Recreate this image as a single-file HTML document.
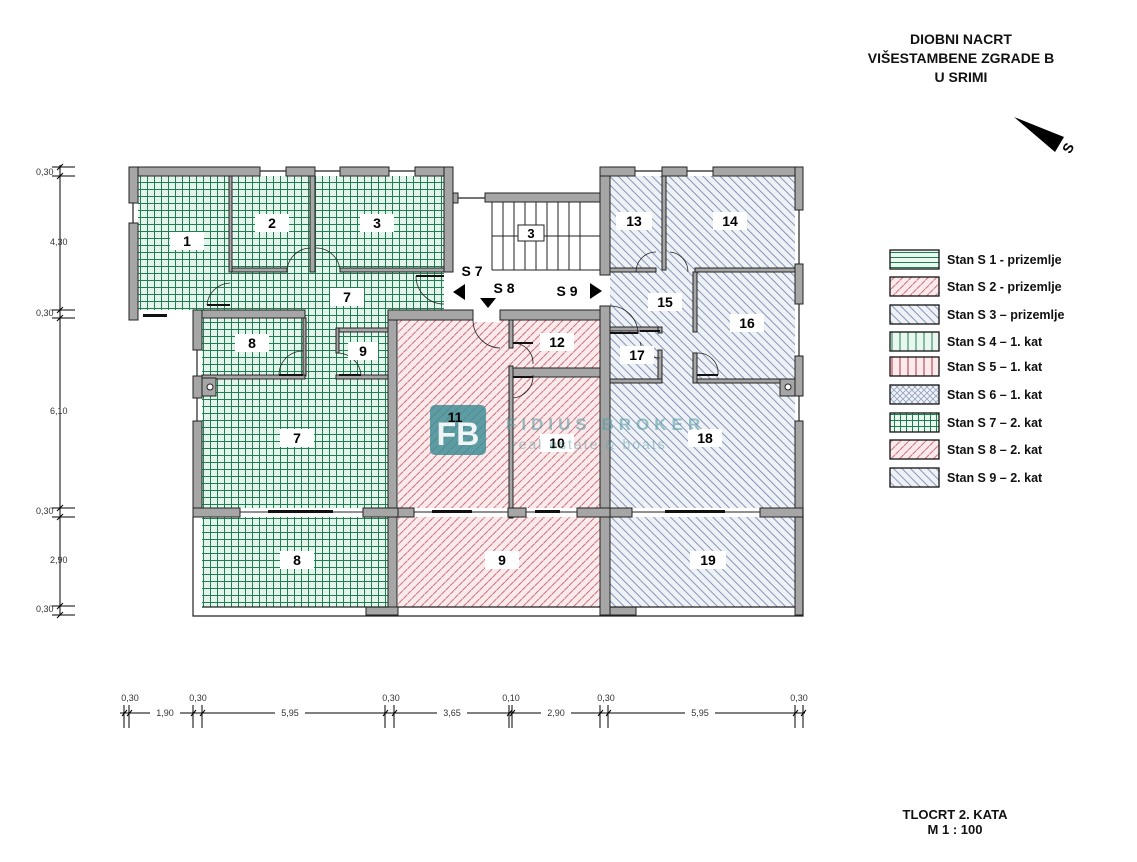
<!DOCTYPE html>
<html><head><meta charset="utf-8"><style>
html,body{margin:0;padding:0;background:#fff;width:1137px;height:862px;overflow:hidden}
svg{display:block}
text{font-family:"Liberation Sans",Arial,sans-serif}
</style></head><body>
<svg width="1137" height="862" viewBox="0 0 1137 862" xmlns="http://www.w3.org/2000/svg">
<defs>
<pattern id="g" width="7" height="7" patternUnits="userSpaceOnUse">
<rect width="7" height="7" fill="#e3f4ec"/>
<path d="M0 0.5H7M0.5 0V7" stroke="#1f7d50" stroke-width="1"/>
</pattern>
<pattern id="r" width="6" height="6" patternUnits="userSpaceOnUse" patternTransform="rotate(45)">
<rect width="6" height="6" fill="#fbeaec"/>
<path d="M0 0.5V6" stroke="#c8707a" stroke-width="1" transform="translate(0.5 0)"/>
</pattern>
<pattern id="b" width="6" height="6" patternUnits="userSpaceOnUse" patternTransform="rotate(-45)">
<rect width="6" height="6" fill="#eef1f6"/>
<path d="M0.5 0V6" stroke="#8696b4" stroke-width="1"/>
</pattern>
<pattern id="lh" width="8" height="5" patternUnits="userSpaceOnUse"><rect width="8" height="5" fill="#eaf6f0"/><path d="M0 2.5H8" stroke="#1f7d50"/></pattern>
<pattern id="lvg" width="8" height="8" patternUnits="userSpaceOnUse"><rect width="8" height="8" fill="#eaf6f0"/><path d="M4 0V8" stroke="#1f7d50"/></pattern>
<pattern id="lvr" width="8" height="8" patternUnits="userSpaceOnUse"><rect width="8" height="8" fill="#fbeaec"/><path d="M4 0V8" stroke="#b03040"/></pattern>
<pattern id="x" width="6" height="6" patternUnits="userSpaceOnUse"><rect width="6" height="6" fill="#eef1f6"/><path d="M0 0L6 6M6 0L0 6" stroke="#8696b4" stroke-width="0.7"/></pattern>
<pattern id="lg" width="6" height="6" patternUnits="userSpaceOnUse"><rect width="6" height="6" fill="#eaf6f0"/><path d="M0 0.5H6M0.5 0V6" stroke="#1f7d50"/></pattern>
</defs>

<rect x="138" y="176" width="306" height="134" fill="url(#g)"/>
<rect x="202" y="310" width="186" height="297" fill="url(#g)"/>
<rect x="398" y="320" width="202" height="287" fill="url(#r)"/>
<rect x="610" y="176" width="185" height="431" fill="url(#b)"/>
<rect x="444" y="272" width="166" height="46" fill="#fff"/>
<rect x="473" y="310" width="27" height="12" fill="#fff"/>
<rect x="193" y="508" width="610" height="9" fill="#fff"/>

<g fill="#a6a6a6" stroke="#222" stroke-width="1">
<rect x="129" y="167" width="131" height="9"/>
<rect x="286" y="167" width="29" height="9"/>
<rect x="340" y="167" width="49" height="9"/>
<rect x="415" y="167" width="38" height="9"/>
<rect x="129" y="167" width="9" height="36"/>
<rect x="129" y="223" width="9" height="97"/>
<rect x="444" y="167" width="9" height="105"/>
<rect x="229" y="176" width="3" height="96"/>
<rect x="310" y="176" width="5" height="96"/>
<rect x="232" y="268" width="55" height="4"/>
<rect x="340" y="268" width="104" height="4"/>
<rect x="453" y="193" width="5" height="10"/>
<rect x="485" y="193" width="115" height="9"/>
<rect x="193" y="310" width="112" height="8"/>
<rect x="193" y="310" width="9" height="40"/>
<rect x="193" y="376" width="9" height="22"/>
<rect x="193" y="421" width="9" height="87"/>
<rect x="303" y="318" width="3" height="58"/>
<rect x="202" y="375" width="103" height="4"/>
<rect x="336" y="328" width="52" height="4"/>
<rect x="336" y="328" width="3" height="25"/>
<rect x="336" y="375" width="52" height="4"/>
<rect x="202" y="378" width="14" height="18"/>
<rect x="388" y="310" width="9" height="305"/>
<rect x="388" y="310" width="85" height="10"/>
<rect x="500" y="310" width="100" height="10"/>
<rect x="509" y="320" width="4" height="28"/>
<rect x="509" y="366" width="4" height="152"/>
<rect x="513" y="368" width="87" height="9"/>
<rect x="600" y="167" width="10" height="108"/>
<rect x="600" y="306" width="10" height="309"/>
<rect x="600" y="167" width="35" height="9"/>
<rect x="662" y="167" width="25" height="9"/>
<rect x="713" y="167" width="90" height="9"/>
<rect x="662" y="176" width="4" height="94"/>
<rect x="610" y="268" width="46" height="4"/>
<rect x="695" y="268" width="100" height="4"/>
<rect x="795" y="167" width="8" height="43"/>
<rect x="795" y="264" width="8" height="40"/>
<rect x="795" y="356" width="8" height="40"/>
<rect x="795" y="421" width="8" height="87"/>
<rect x="693" y="272" width="4" height="60"/>
<rect x="693" y="353" width="4" height="30"/>
<rect x="697" y="379" width="98" height="4"/>
<rect x="780" y="379" width="15" height="17"/>
<rect x="610" y="327" width="52" height="4"/>
<rect x="658" y="327" width="4" height="6"/>
<rect x="658" y="350" width="4" height="33"/>
<rect x="610" y="379" width="52" height="4"/>
<rect x="193" y="508" width="47" height="9"/>
<rect x="363" y="508" width="35" height="9"/>
<rect x="398" y="508" width="16" height="9"/>
<rect x="508" y="508" width="18" height="9"/>
<rect x="577" y="508" width="33" height="9"/>
<rect x="610" y="508" width="22" height="9"/>
<rect x="760" y="508" width="43" height="9"/>
<rect x="795" y="517" width="8" height="98"/>
<rect x="366" y="607" width="32" height="8"/>
<rect x="610" y="607" width="26" height="8"/>
</g>
<circle cx="210" cy="387" r="3" fill="#fff" stroke="#222"/>
<circle cx="788" cy="387" r="3" fill="#fff" stroke="#222"/>
<g fill="none" stroke="#222" stroke-width="1.2">
<path d="M193 517V616H803V508"/>
<path d="M202 607H388M398 607H600M610 607H795"/>
<path d="M133 203V223M197 350V376M197 398V421M799 210V264M799 304V356M799 396V421"/>
<path d="M260 171H286M315 171H340M389 171H415M635 171H662M687 171H713M458 198H485"/>
<path d="M240 512H363M414 512H508M526 512H577M632 512H760" stroke-width="1"/>
</g>
<g fill="#111"><rect x="268" y="510" width="65" height="3"/><rect x="432" y="510" width="40" height="3"/><rect x="535" y="510" width="25" height="3"/><rect x="665" y="510" width="60" height="3"/><rect x="143" y="314" width="24" height="3"/></g>
<g stroke="#222" fill="none" stroke-width="1">
<path d="M492 202V270M600 270H492M492 236H600"/>
<path d="M503 202V270M514 202V270M525 202V270M536 202V270M547 202V270M558 202V270M569 202V270M580 202V270"/>
</g>
<rect x="518" y="225" width="26" height="16" fill="#fff" stroke="#222"/>
<text x="531" y="238" font-size="13" font-weight="bold" text-anchor="middle">3</text>
<g fill="none" stroke="#222" stroke-width="0.8">
<path d="M287 272A24 24 0 0 1 310 248M340 272A24 24 0 0 0 316 248"/>
<path d="M207 305A24 24 0 0 1 230 283M444 304A28 28 0 0 1 416 276"/>
<path d="M279 375A24 24 0 0 1 303 351M361 375A24 24 0 0 0 339 353"/>
<path d="M473 320A28 28 0 0 0 500 348M513 343A20 20 0 0 1 533 364M513 398A22 22 0 0 0 533 375"/>
<path d="M636 272A20 20 0 0 1 656 252M688 272A20 20 0 0 0 670 252M610 306A28 28 0 0 1 638 334M697 353A20 20 0 0 1 718 375M640 342A20 20 0 0 0 660 358"/>
</g>
<g stroke="#111" stroke-width="2"><path d="M207 305H230M416 276H444M279 375H303M339 375H361M513 343H533M513 377H533M610 333H638M697 375H718M640 331H660"/></g>

<g font-size="14" font-weight="bold" text-anchor="middle">
<g fill="#fff"><rect x="170" y="232" width="34" height="18"/><rect x="255" y="214" width="34" height="18"/><rect x="360" y="214" width="34" height="18"/><rect x="330" y="288" width="34" height="18"/><rect x="235" y="334" width="34" height="18"/><rect x="348" y="342" width="30" height="18"/><rect x="280" y="429" width="34" height="18"/><rect x="280" y="551" width="34" height="18"/><rect x="485" y="551" width="34" height="18"/><rect x="540" y="333" width="34" height="18"/><rect x="540" y="434" width="34" height="18"/><rect x="688" y="429" width="34" height="18"/><rect x="690" y="551" width="36" height="18"/><rect x="616" y="212" width="36" height="18"/><rect x="713" y="212" width="34" height="18"/><rect x="648" y="293" width="34" height="18"/><rect x="730" y="314" width="34" height="18"/><rect x="620" y="346" width="34" height="18"/></g>
<text x="187" y="246">1</text><text x="272" y="228">2</text><text x="377" y="228">3</text><text x="347" y="302">7</text><text x="252" y="348">8</text><text x="363" y="356">9</text><text x="297" y="443">7</text><text x="297" y="565">8</text><text x="502" y="565">9</text><text x="557" y="347">12</text><text x="557" y="448">10</text><text x="705" y="443">18</text><text x="708" y="565">19</text><text x="634" y="226">13</text><text x="730" y="226">14</text><text x="665" y="307">15</text><text x="747" y="328">16</text><text x="637" y="360">17</text>
<text x="472" y="276">S 7</text><text x="504" y="293">S 8</text><text x="567" y="296">S 9</text>
</g>
<path d="M453 292L465 284V300Z M480 298H496L488 308Z M602 291L590 283V299Z" fill="#000"/>
<rect x="430" y="405" width="56" height="50" rx="5" fill="#3f8e95" opacity="0.85"/>
<text x="458" y="445" font-size="32" font-weight="bold" fill="#fff" text-anchor="middle" opacity="0.9">FB</text>
<text x="455" y="422" font-size="14" font-weight="bold" text-anchor="middle">11</text>
<text x="506" y="430" font-size="17" font-weight="bold" fill="#5a9ea3" opacity="0.6" letter-spacing="5">FIDIUS BROKER</text>
<text x="512" y="449" font-size="14" fill="#5a9ea3" opacity="0.5" letter-spacing="2">real estate &amp; boats</text>

<g stroke="#000" stroke-width="1" fill="none">
<path d="M60 165V615"/>
<path d="M52 167H75M52 176H75M52 310H75M52 318H75M52 508H75M52 517H75M52 606H75M52 615H75"/>
<path d="M57 170L63 164M57 179L63 173M57 313L63 307M57 321L63 315M57 511L63 505M57 520L63 514M57 609L63 603M57 618L63 612"/>
</g>
<g font-size="9" fill="#333">
<text x="36" y="175">0,30</text><text x="50" y="245">4,30</text><text x="36" y="316">0,30</text><text x="50" y="414">6,10</text><text x="36" y="514">0,30</text><text x="50" y="563">2,90</text><text x="36" y="612">0,30</text>
</g>
<g stroke="#000" stroke-width="1" fill="none">
<path d="M120 713H805"/>
<path d="M124 705V728M129 705V728M193 705V728M202 705V728M385 705V728M394 705V728M509 705V728M512 705V728M600 705V728M608 705V728M795 705V728M803 705V728"/>
<path d="M122 716L127 710M127 716L132 710M191 716L196 710M200 716L205 710M383 716L388 710M392 716L397 710M507 716L512 710M510 716L515 710M598 716L603 710M606 716L611 710M793 716L798 710M801 716L806 710"/>
</g>
<g font-size="9" fill="#333" text-anchor="middle">
<text x="130" y="701">0,30</text><text x="198" y="701">0,30</text><text x="391" y="701">0,30</text><text x="511" y="701">0,10</text><text x="606" y="701">0,30</text><text x="799" y="701">0,30</text>
</g>
<g font-size="9" fill="#333" text-anchor="middle"><rect x="150" y="707" width="30" height="11" fill="#fff"/><text x="165" y="716">1,90</text><rect x="275" y="707" width="30" height="11" fill="#fff"/><text x="290" y="716">5,95</text><rect x="437" y="707" width="30" height="11" fill="#fff"/><text x="452" y="716">3,65</text><rect x="541" y="707" width="30" height="11" fill="#fff"/><text x="556" y="716">2,90</text><rect x="685" y="707" width="30" height="11" fill="#fff"/><text x="700" y="716">5,95</text></g>

<g font-size="14" font-weight="bold" text-anchor="middle" fill="#111">
<text x="961" y="44">DIOBNI NACRT</text><text x="961" y="63">VIŠESTAMBENE ZGRADE B</text><text x="961" y="82">U SRIMI</text>
<text x="955" y="819" font-size="13">TLOCRT 2. KATA</text><text x="955" y="834" font-size="13">M 1 : 100</text>
</g>
<path d="M1014 117L1064 137L1055 152Z" fill="#000"/>
<text x="1068" y="153" font-size="14" font-weight="bold" transform="rotate(-60 1068 148)" text-anchor="middle">S</text>

<g stroke="#111" stroke-width="1.3">
<rect x="890" y="250" width="49" height="19" fill="url(#lh)"/>
<rect x="890" y="277" width="49" height="19" fill="url(#r)"/>
<rect x="890" y="305" width="49" height="19" fill="url(#b)"/>
<rect x="890" y="332" width="49" height="19" fill="url(#lvg)"/>
<rect x="890" y="357" width="49" height="19" fill="url(#lvr)"/>
<rect x="890" y="385" width="49" height="19" fill="url(#x)"/>
<rect x="890" y="413" width="49" height="19" fill="url(#lg)"/>
<rect x="890" y="440" width="49" height="19" fill="url(#r)"/>
<rect x="890" y="468" width="49" height="19" fill="url(#b)"/>
</g>
<g font-size="12.5" font-weight="bold" fill="#111">
<text x="947" y="264">Stan S 1 - prizemlje</text>
<text x="947" y="291">Stan S 2 - prizemlje</text>
<text x="947" y="319">Stan S 3 – prizemlje</text>
<text x="947" y="346">Stan S 4 – 1. kat</text>
<text x="947" y="371">Stan S 5 – 1. kat</text>
<text x="947" y="399">Stan S 6 – 1. kat</text>
<text x="947" y="427">Stan S 7 – 2. kat</text>
<text x="947" y="454">Stan S 8 – 2. kat</text>
<text x="947" y="482">Stan S 9 – 2. kat</text>
</g>
</svg>
</body></html>
